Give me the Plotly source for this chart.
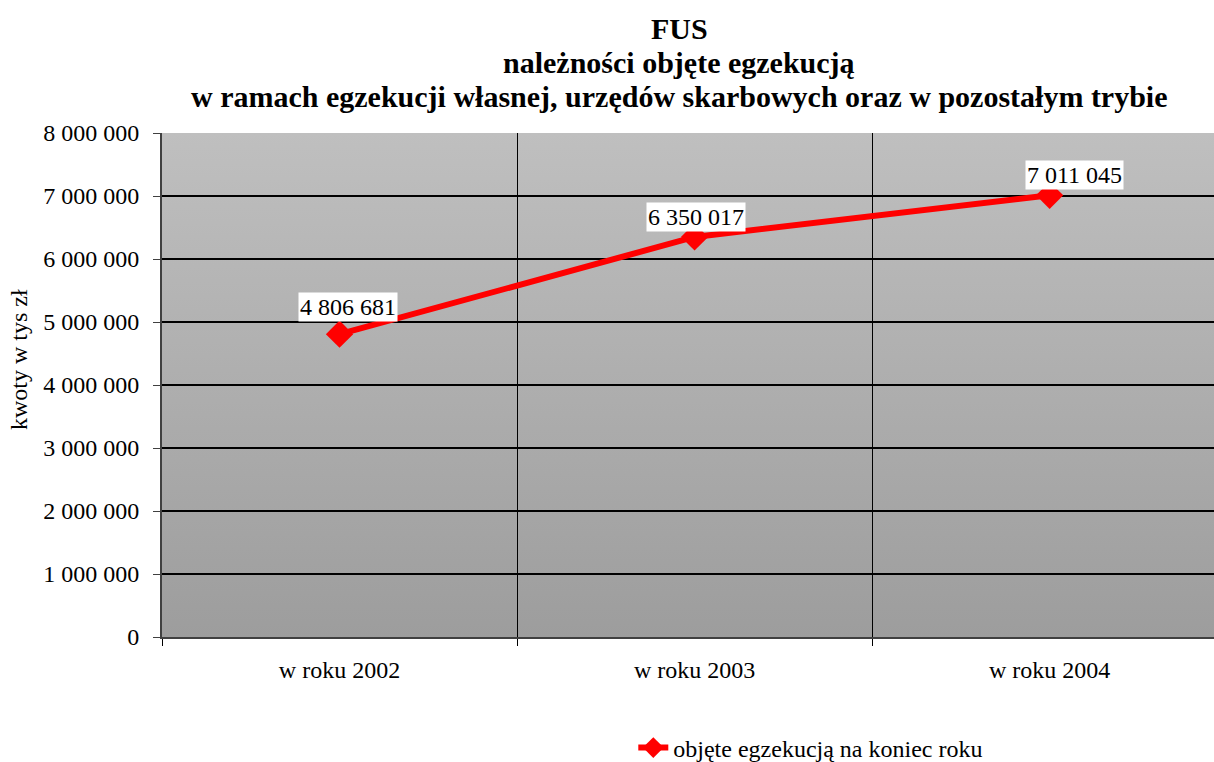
import base64
import plotly.graph_objects as go

categories = ["w roku 2002", "w roku 2003", "w roku 2004"]
values = [4806681, 6350017, 7011045]
series_name = "objęte egzekucją na koniec roku"
y_ticks = [0, 1000000, 2000000, 3000000, 4000000, 5000000, 6000000, 7000000, 8000000]
y_title = "kwoty w tys zł"

title_lines = [
    "FUS",
    "należności objęte egzekucją",
    "w ramach egzekucji własnej, urzędów skarbowych oraz w pozostałym trybie",
]

FONT = "Liberation Serif"
PLOT_TOP, PLOT_BOTTOM, PLOT_LEFT, PLOT_RIGHT = 133, 637, 162, 1214


def fmt(v):
    return f"{v:,}".replace(",", " ")


def paper_y(py):
    return (PLOT_BOTTOM - py) / (PLOT_BOTTOM - PLOT_TOP)


def paper_x(px):
    return (px - PLOT_LEFT) / (PLOT_RIGHT - PLOT_LEFT)


# gradient background for the plot area
svg = (
    '<svg xmlns="http://www.w3.org/2000/svg" width="10" height="100" '
    'viewBox="0 0 10 100" preserveAspectRatio="none">'
    '<defs><linearGradient id="g" x1="0" y1="0" x2="0" y2="1">'
    '<stop offset="0" stop-color="#bfbfbf"/><stop offset="1" stop-color="#9d9d9d"/>'
    '</linearGradient></defs><rect width="10" height="100" fill="url(#g)"/></svg>'
)
bg_src = "data:image/svg+xml;base64," + base64.b64encode(svg.encode()).decode()

fig = go.Figure()

fig.add_trace(go.Scatter(
    x=categories,
    y=values,
    mode="lines+markers",
    name=series_name,
    line=dict(color="#ff0000", width=6),
    marker=dict(symbol="diamond", size=21, color="#ff0000"),
    cliponaxis=False,
))

# data labels with white boxes
label_shift = [(8, 27), (1, 20), (25, 20)]
for cat, val, (dx, dy) in zip(categories, values, label_shift):
    fig.add_annotation(
        x=cat, y=val, text=fmt(val), showarrow=False,
        xshift=dx, yshift=dy, bgcolor="white", borderpad=1,
        font=dict(family=FONT, size=24, color="black"),
    )

# three title lines, placed one by one
for line, py in zip(title_lines, [28, 62, 96]):
    fig.add_annotation(
        text=line, xref="paper", yref="paper",
        x=paper_x(679), y=paper_y(py), xanchor="center", yanchor="middle",
        showarrow=False,
        font=dict(family=FONT, size=30, color="black", weight=700),
    )

# y-axis title, sits a bit above the middle like the original
fig.add_annotation(
    text=y_title, xref="paper", yref="paper",
    x=paper_x(19), y=paper_y(360), xanchor="center", yanchor="middle",
    textangle=-90, showarrow=False,
    font=dict(family=FONT, size=24, color="black"),
)

fig.update_layout(
    width=1214,
    height=762,
    margin=dict(l=162, r=0, t=133, b=125, autoexpand=False),
    paper_bgcolor="white",
    plot_bgcolor="#b0b0b0",
    font=dict(family=FONT, size=22, color="black"),
    showlegend=True,
    legend=dict(
        orientation="h", x=0.448, xanchor="left", y=paper_y(748), yanchor="middle",
        font=dict(family=FONT, size=24, color="black"),
        bgcolor="rgba(0,0,0,0)",
    ),
    images=[dict(
        source=bg_src, xref="paper", yref="paper", x=0, y=1,
        sizex=1, sizey=1, xanchor="left", yanchor="top",
        sizing="stretch", layer="below",
    )],
)

# the last category is cut by the right edge in the original
fig.update_xaxes(
    type="category",
    range=[-0.5, 2.463],
    tickson="boundaries",
    showgrid=True, gridcolor="black", gridwidth=1,
    ticks="outside", ticklen=7, tickcolor="black",
    showline=True, linecolor="#404040", linewidth=2,
    tickfont=dict(family=FONT, size=24),
    ticklabelstandoff=10,
    zeroline=False,
    automargin=False,
)
fig.update_yaxes(
    range=[0, 8000000],
    tickvals=y_ticks,
    ticktext=[fmt(v) for v in y_ticks],
    showgrid=True, gridcolor="black", gridwidth=2,
    ticks="outside", ticklen=7, tickcolor="#404040",
    showline=True, linecolor="#404040", linewidth=2,
    tickfont=dict(family=FONT, size=24),
    ticklabelstandoff=9,
    zeroline=False,
    automargin=False,
)

# drop the default page margin so the figure sits at the window's corner
fig.write_html(
    "out.html",
    config={"displayModeBar": False},
    post_script="document.body.style.margin='0';",
)
